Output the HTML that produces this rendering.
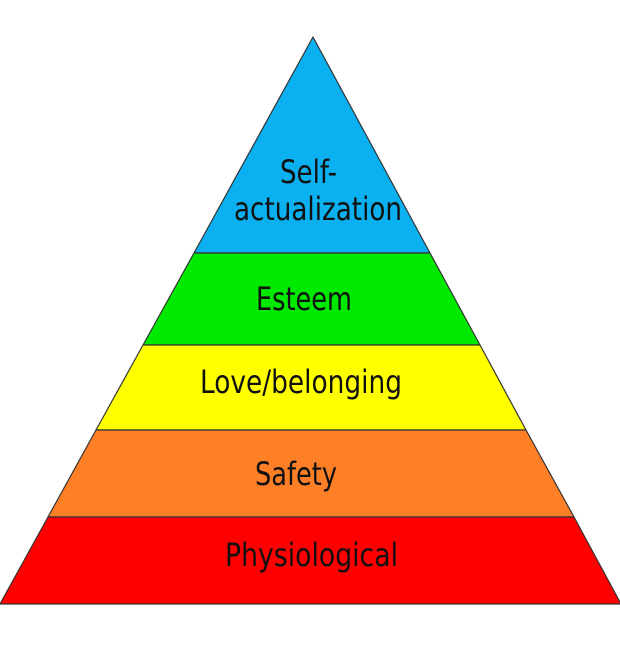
<!DOCTYPE html>
<html><head><style>html,body{margin:0;padding:0;background:#fff}svg{display:block}</style></head>
<body>
<svg width="620" height="650" viewBox="0 0 620 650" xmlns="http://www.w3.org/2000/svg">
<g stroke="#333" stroke-width="1.2" stroke-linejoin="round">
<polygon points="313,37 430,253 194,253" fill="#0ab0ef"/>
<polygon points="194,253 430,253 480,345 143,345" fill="#00ea00"/>
<polygon points="143,345 480,345 526,430 96,430" fill="#ffff00"/>
<polygon points="96,430 526,430 574,517 48,517" fill="#ff7f27"/>
<polygon points="48,517 574,517 621,604 0,604" fill="#fe0000"/>
</g>
<g font-family="DejaVu Sans, Liberation Sans, sans-serif" font-size="32" fill="#111">
<text x="280" y="183" textLength="57" lengthAdjust="spacingAndGlyphs">Self-</text>
<text x="234" y="220" textLength="168" lengthAdjust="spacingAndGlyphs">actualization</text>
<text x="256" y="310" textLength="96" lengthAdjust="spacingAndGlyphs">Esteem</text>
<text x="200" y="393" textLength="202" lengthAdjust="spacingAndGlyphs">Love/belonging</text>
<text x="255" y="485" textLength="82" lengthAdjust="spacingAndGlyphs">Safety</text>
<text x="225" y="566" textLength="173" lengthAdjust="spacingAndGlyphs">Physiological</text>
</g>
</svg>
</body></html>
